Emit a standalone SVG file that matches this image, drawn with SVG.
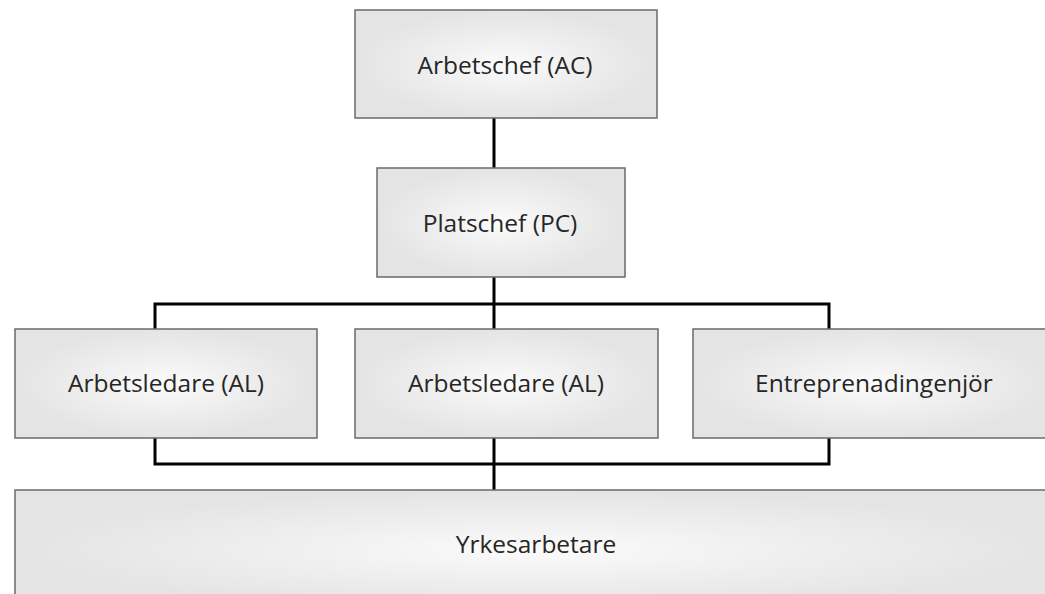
<svg xmlns="http://www.w3.org/2000/svg" width="1045" height="594" viewBox="0 0 1045 594">
  <defs>
    <radialGradient id="g" cx="0.5" cy="0.5" r="0.5">
      <stop offset="0" stop-color="#fbfbfb"/>
      <stop offset="0.45" stop-color="#f0f0f0"/>
      <stop offset="1" stop-color="#e4e4e4"/>
    </radialGradient>
  </defs>
  <style>
    .box { fill: url(#g); stroke: #6a6a6a; stroke-width: 1.5; }
    .lbl { font-family: "Open Sans", "Noto Sans", sans-serif; font-size: 24.5px; fill: #262626; text-anchor: middle; }
    .con { fill: none; stroke: #000; stroke-width: 3; stroke-linejoin: miter; }
  </style>
  <rect width="1045" height="594" fill="#fff"/>
  <g id="connectors">
    <line class="con" x1="494" y1="118" x2="494" y2="168"/>
    <line class="con" x1="494" y1="277" x2="494" y2="329"/>
    <polyline class="con" points="155,329 155,304 829,304 829,329"/>
    <polyline class="con" points="155,438 155,464 829,464 829,438"/>
    <line class="con" x1="494" y1="438" x2="494" y2="490"/>
  </g>
  <g id="node-ac">
    <rect class="box" x="355" y="10" width="302" height="108"/>
    <text class="lbl" x="505" y="74">Arbetschef (AC)</text>
  </g>
  <g id="node-pc">
    <rect class="box" x="377" y="168" width="248" height="109"/>
    <text class="lbl" x="500" y="232">Platschef (PC)</text>
  </g>
  <g id="node-al1">
    <rect class="box" x="15" y="329" width="302" height="109"/>
    <text class="lbl" x="166" y="392">Arbetsledare (AL)</text>
  </g>
  <g id="node-al2">
    <rect class="box" x="355" y="329" width="303" height="109"/>
    <text class="lbl" x="506" y="392">Arbetsledare (AL)</text>
  </g>
  <g id="node-ei">
    <rect class="box" x="693" y="329" width="363" height="109"/>
    <text class="lbl" x="874" y="392">Entreprenadingenjör</text>
  </g>
  <g id="node-yrk">
    <rect class="box" x="15" y="490" width="1042" height="120"/>
    <text class="lbl" x="536" y="553">Yrkesarbetare</text>
  </g>
</svg>
